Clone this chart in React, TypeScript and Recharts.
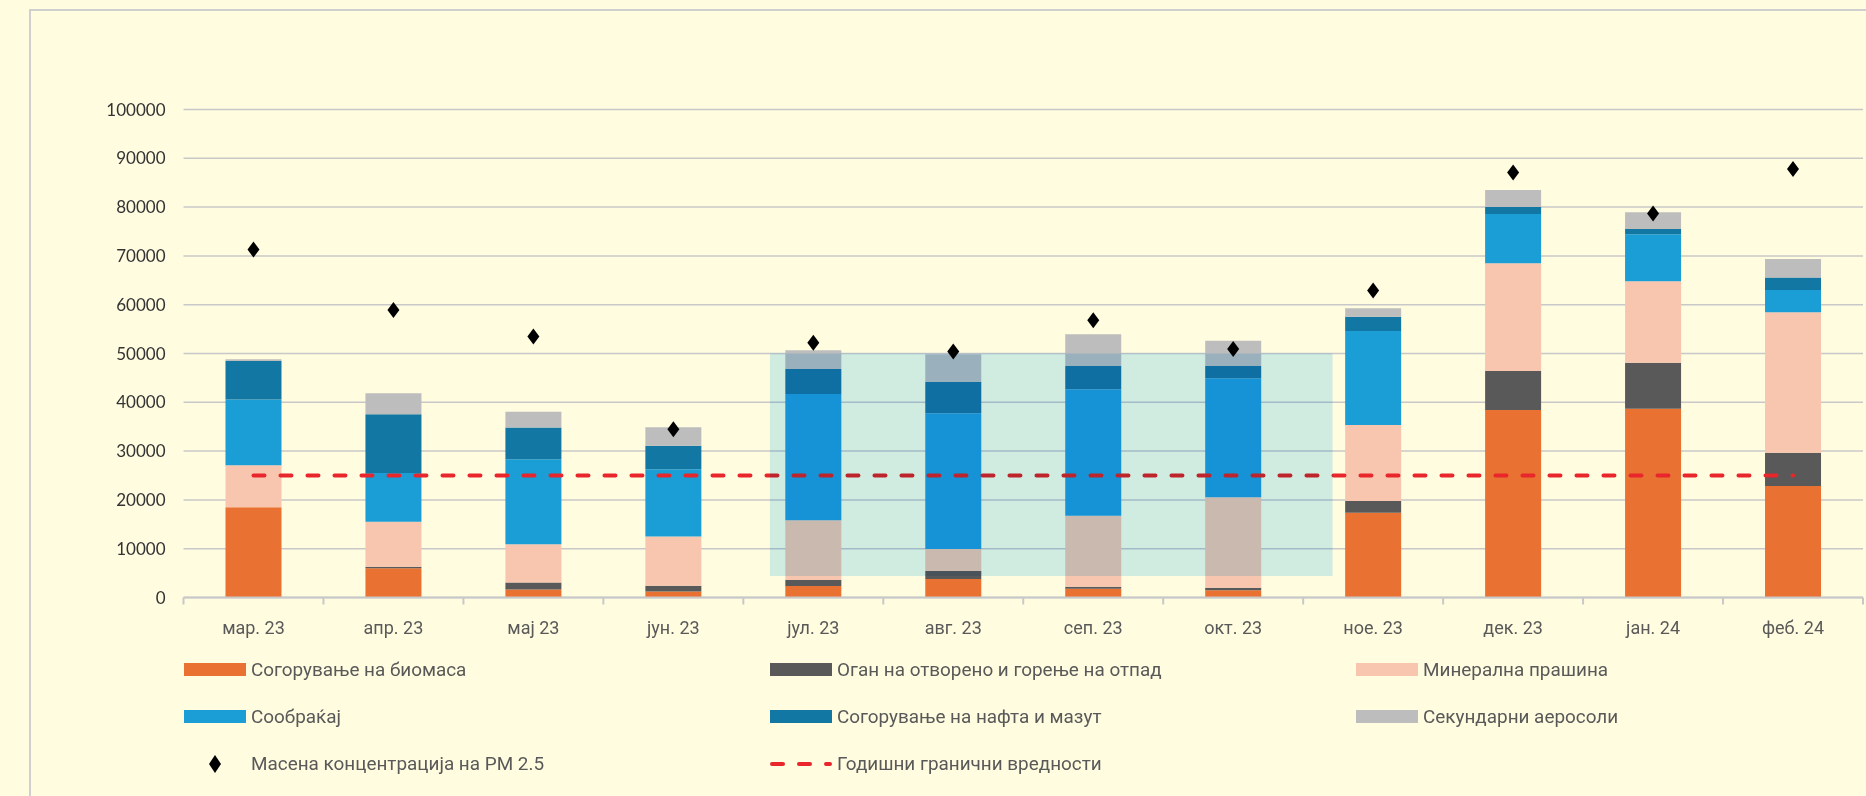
import React from "react";
import {
  Bar,
  CartesianGrid,
  ComposedChart,
  Line,
  ReferenceArea,
  Scatter,
  XAxis,
  YAxis,
} from "recharts";

const MONTHS = [
  "мар. 23", "апр. 23", "мај 23", "јун. 23", "јул. 23", "авг. 23",
  "сеп. 23", "окт. 23", "ное. 23", "дек. 23", "јан. 24", "феб. 24",
];

const BIOMASS = [18500, 5980, 1650, 1230, 2360, 3800, 1810, 1470, 17380, 38420, 38700, 22850];
const OPEN_FIRE = [0, 320, 1440, 1160, 1230, 1630, 410, 550, 2400, 7990, 9430, 6830];
const MINERAL = [8600, 9230, 7840, 10110, 12220, 4510, 14550, 18510, 15570, 22070, 16660, 28770];
const TRAFFIC = [13450, 9970, 17390, 13800, 25890, 27800, 25890, 24380, 19260, 10110, 9630, 4580];
const OIL = [7900, 12030, 6530, 4800, 5130, 6420, 4780, 2530, 2940, 1430, 1090, 2530];
const SECONDARY = [350, 4330, 3230, 3800, 3820, 5670, 6490, 5190, 1710, 3480, 3420, 3820];
const PM25 = [71300, 58900, 53500, 34500, 52200, 50400, 56800, 50900, 62900, 87100, 78700, 87800];
const ANNUAL_LIMIT = 25000;

const Y_TICKS = [0, 10000, 20000, 30000, 40000, 50000, 60000, 70000, 80000, 90000, 100000];

// highlighted summer period: first/last month, plus how far (in bands) it is shifted right
const HIGHLIGHT_FROM = "јул. 23";
const HIGHLIGHT_TO = "окт. 23";
const HIGHLIGHT_SHIFT = [0.19, 0.21];
const HIGHLIGHT_Y = [4400, 50000];

const SERIES = [
  { key: "biomass", name: "Согорување на биомаса", color: "#E97132" },
  { key: "openFire", name: "Оган на отворено и горење на отпад", color: "#595959" },
  { key: "mineral", name: "Минерална прашина", color: "#F8C6AE" },
  { key: "traffic", name: "Сообраќај", color: "#1B9DD6" },
  { key: "oil", name: "Согорување на нафта и мазут", color: "#1277A2" },
  { key: "secondary", name: "Секундарни аеросоли", color: "#BDBDBD" },
];

const data = MONTHS.map((month, i) => ({
  month,
  biomass: BIOMASS[i],
  openFire: OPEN_FIRE[i],
  mineral: MINERAL[i],
  traffic: TRAFFIC[i],
  oil: OIL[i],
  secondary: SECONDARY[i],
  pm25: PM25[i],
  limit: ANNUAL_LIMIT,
}));

const CHART_W = 1866;
const CHART_H = 796;
const MARGIN = { top: 109.5, right: 3, bottom: 0, left: 0 };
const Y_AXIS_W = 183.5;
const X_AXIS_H = 198.5;
const BAND = (CHART_W - Y_AXIS_W - MARGIN.right - MARGIN.left) / MONTHS.length;

const BG = "#FFFCE0";
const AXIS_GREY = "#C8C8C8";
const LIMIT_RED = "#E8262B";

function MonthTick(props: any) {
  const { x, y, payload } = props;
  const i = props.index ?? payload.index;
  return (
    <g>
      <line x1={x - BAND / 2} x2={x - BAND / 2} y1={y} y2={y + 7} stroke={AXIS_GREY} strokeWidth={2} />
      {i === MONTHS.length - 1 && (
        <line x1={x + BAND / 2} x2={x + BAND / 2} y1={y} y2={y + 7} stroke={AXIS_GREY} strokeWidth={2} />
      )}
      <text x={x} y={y + 36} textAnchor="middle" fill="#595959" fontFamily="Roboto" fontSize={18}>
        {payload.value}
      </text>
    </g>
  );
}

function Diamond(props: any) {
  const { cx, cy } = props;
  if (cx == null || cy == null) return null;
  return <polygon points={`${cx},${cy - 8} ${cx + 6},${cy} ${cx},${cy + 8} ${cx - 6},${cy}`} fill="#000" />;
}

function HighlightRect(props: any) {
  const { x, y, width, height } = props;
  if (x == null || width == null) return null;
  const left = x + HIGHLIGHT_SHIFT[0] * BAND;
  const right = x + width + HIGHLIGHT_SHIFT[1] * BAND;
  return <rect x={left} y={y} width={right - left} height={height} fill="#D0EEFF" />;
}

function LegendItem({ left, top, marker, label }: { left: number; top: number; marker: React.ReactNode; label: string }) {
  return (
    <div style={{ position: "absolute", left, top, height: 24, display: "flex", alignItems: "center" }}>
      <div style={{ width: 62, height: 24, display: "flex", alignItems: "center", justifyContent: "center" }}>{marker}</div>
      <span style={{ marginLeft: 5, fontFamily: "Roboto", fontSize: 18.9, color: "#595959", whiteSpace: "nowrap" }}>{label}</span>
    </div>
  );
}

const swatch = (color: string) => <div style={{ width: 62, height: 13, background: color }} />;

function ChartLegend() {
  const cols = [184, 770, 1356];
  const rows = [657.5, 704.7, 751.5];
  return (
    <>
      {SERIES.map((s, i) => (
        <LegendItem key={s.key} left={cols[i % 3]} top={rows[Math.floor(i / 3)]} marker={swatch(s.color)} label={s.name} />
      ))}
      <LegendItem
        left={cols[0]}
        top={rows[2]}
        label="Масена концентрација на PM 2.5"
        marker={
          <svg width={14} height={18}>
            <polygon points="7,0 13,9 7,18 1,9" fill="#000" />
          </svg>
        }
      />
      <LegendItem
        left={cols[1]}
        top={rows[2]}
        label="Годишни гранични вредности"
        marker={
          <svg width={62} height={8}>
            <line x1={2} x2={60} y1={4} y2={4} stroke={LIMIT_RED} strokeWidth={4} strokeDasharray="11 16" strokeLinecap="round" />
          </svg>
        }
      />
    </>
  );
}

export default function App() {
  return (
    <div style={{ position: "relative", width: CHART_W, height: CHART_H, background: BG, overflow: "hidden" }}>
      <style>{`
        body { margin: 0; }
        .pm-overlay rect, .pm-overlay path { mix-blend-mode: multiply; }
      `}</style>
      <div style={{ position: "absolute", left: 0, top: 0 }}>
        <ComposedChart width={CHART_W} height={CHART_H} data={data} margin={MARGIN} barCategoryGap="30%">
          <CartesianGrid vertical={false} stroke={AXIS_GREY} strokeWidth={1.5} />
          <XAxis
            dataKey="month"
            height={X_AXIS_H}
            axisLine={{ stroke: AXIS_GREY, strokeWidth: 2 }}
            tickLine={false}
            tickSize={0}
            tickMargin={0}
            interval={0}
            tick={<MonthTick />}
          />
          <YAxis
            width={Y_AXIS_W}
            domain={[0, 100000]}
            ticks={Y_TICKS}
            axisLine={false}
            tickLine={false}
            tickSize={0}
            tickMargin={18}
            tick={{ fill: "#333333", fontFamily: "Lato", fontSize: 17 }}
          />
          {SERIES.map((s) => (
            <Bar key={s.key} dataKey={s.key} name={s.name} stackId="src" fill={s.color} isAnimationActive={false} />
          ))}
          <Line
            dataKey="limit"
            stroke={LIMIT_RED}
            strokeWidth={4}
            strokeDasharray="11 16"
            strokeLinecap="round"
            dot={false}
            activeDot={false}
            isAnimationActive={false}
          />
          <ReferenceArea
            className="pm-overlay"
            x1={HIGHLIGHT_FROM}
            x2={HIGHLIGHT_TO}
            y1={HIGHLIGHT_Y[0]}
            y2={HIGHLIGHT_Y[1]}
            shape={<HighlightRect />}
            zIndex={450}
          />
          <Scatter dataKey="pm25" shape={<Diamond />} isAnimationActive={false} />
        </ComposedChart>
      </div>
      <div
        style={{
          position: "absolute",
          left: 29,
          top: 9,
          width: CHART_W,
          height: CHART_H,
          border: "2px solid #CFCFCF",
          pointerEvents: "none",
        }}
      />
      <ChartLegend />
    </div>
  );
}
